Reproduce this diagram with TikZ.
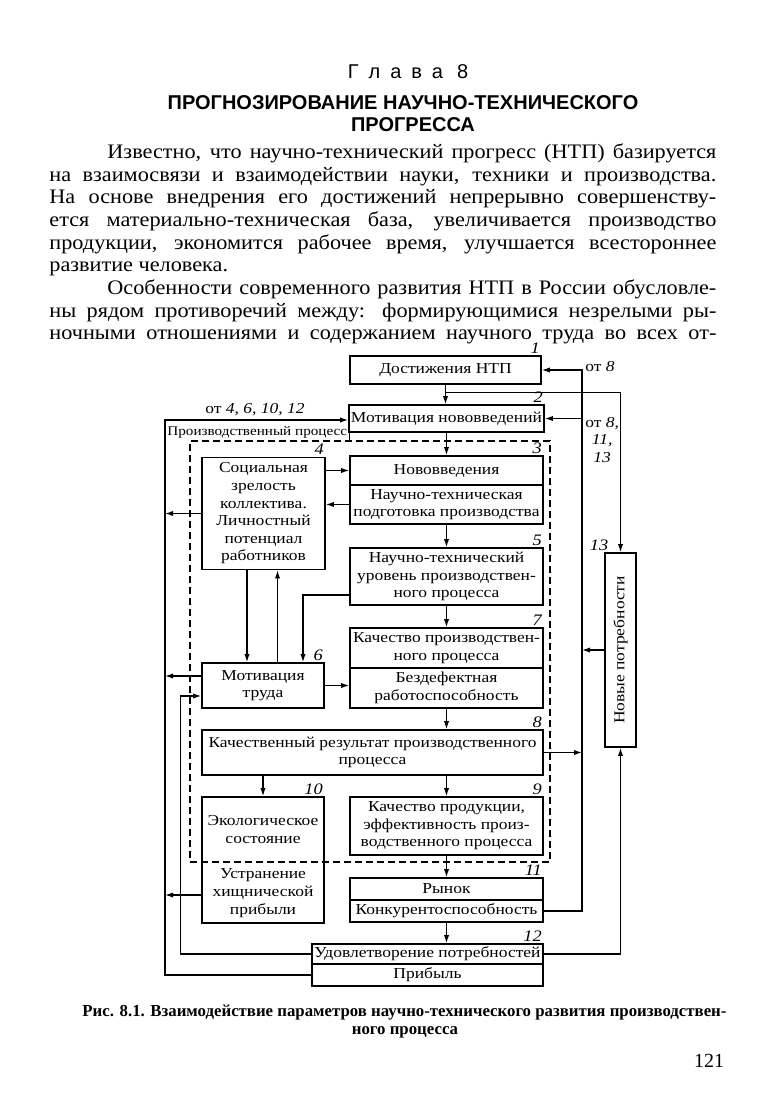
\documentclass[tikz,border=0pt]{standalone}
\usepackage{fontspec}
\setmainfont{Liberation Serif}
\newfontfamily\bodyfont[FakeStretch=1.08]{Liberation Serif}
\newfontfamily\diagfont[FakeStretch=1.15]{Liberation Serif}
\newfontfamily\headfont{Liberation Sans}
\usetikzlibrary{positioning,arrows.meta,calc}

\begin{document}
\begin{tikzpicture}[
x=0.5pt, y=-0.5pt,
wh/.style 2 args={minimum width=#1*0.5pt, minimum height=#2*0.5pt},
box/.style={
draw,
line width=0.8pt,
inner sep=1pt,
align=center,
font=\diagfont\fontsize{7.6}{8.8}\selectfont
},
note/.style={inner sep=1pt, align=center, font=\diagfont\fontsize{7.6}{8.8}\selectfont},
num/.style={anchor=south east, inner sep=0.8pt, font=\diagfont\itshape\fontsize{8}{8}\selectfont},
conn/.style={->, line width=0.6pt},
txt/.style={anchor=base west, inner sep=0pt, font=\bodyfont\fontsize{10.3}{11.35}\selectfont},
>={Latex[length=4pt,width=2.6pt]}
]

\path[fill=white, use as bounding box] (0,0) rectangle (764,1097);

% heading
\node[font=\headfont\fontsize{10}{11}\selectfont, anchor=base] (chap) at (408,79)
{Г\hspace{5pt}л\hspace{5pt}а\hspace{5pt}в\hspace{5pt}а\hspace{7pt}8};
\node[font=\headfont\bfseries\fontsize{10}{11}\selectfont, anchor=base] (title1) at (403,109.5)
{ПРОГНОЗИРОВАНИЕ НАУЧНО-ТЕХНИЧЕСКОГО};
\node[font=\headfont\bfseries\fontsize{10}{11}\selectfont, anchor=base] (title2) at (413,131.5)
{ПРОГРЕССА};

% body text
\node[txt] (t1) at (107,158) {\makebox[304.5pt][s]{Известно, что научно-технический прогресс (НТП) базируется}};
\node[txt] (t2) at (49,181) {\makebox[333.5pt][s]{на взаимосвязи и взаимодействии науки, техники и производства.}};
\node[txt] (t3) at (49,203.5) {\makebox[333.5pt][s]{На основе внедрения его достижений непрерывно совершенству-}};
\node[txt] (t4) at (49,226) {\makebox[333.5pt][s]{ется материально-техническая база, увеличивается производство}};
\node[txt] (t5) at (49,249) {\makebox[333.5pt][s]{продукции, экономится рабочее время, улучшается всестороннее}};
\node[txt] (t6) at (49,271.5) {развитие человека.};
\node[txt] (t7) at (107,294) {\makebox[304.5pt][s]{Особенности современного развития НТП в России обусловле-}};
\node[txt] (t8) at (49,317) {\makebox[333.5pt][s]{ны рядом противоречий между: формирующимися незрелыми ры-}};
\node[txt] (t9) at (49,339) {\makebox[333.5pt][s]{ночными отношениями и содержанием научного труда во всех от-}};

% process frame
\node[draw, dashed, dash pattern=on 3.5pt off 2pt, line width=0.6pt, wh={360}{421}] (proc) at (370,651.5) {};
\coordinate (ol) at (165,420);
\coordinate (rl) at (582,370);

% boxes
\node[box, wh={191}{28}] (b1) at (445.5,370) {Достижения НТП};
\node[box, wh={193}{27}] (b2) at (446.5,418.5) {Мотивация нововведений};
\node[box, wh={193}{29}] (b3a) at (446.5,470.5) {Нововведения};
\node[box, wh={193}{39}] (b3b) at (446.5,504.5) {Научно-техническая\\подготовка производства};
\node[box, wh={123}{112}] (b4) at (263.5,513.5) {Социальная\\зрелость\\коллектива.\\Личностный\\потенциал\\работников};
\node[box, wh={193}{57}] (b5) at (446.5,576.5) {Научно-технический\\уровень производствен-\\ного процесса};
\node[box, wh={122}{45}] (b6) at (263,685.5) {Мотивация\\труда};
\node[box, wh={193}{40}] (b7a) at (446.5,648) {Качество производствен-\\ного процесса};
\node[box, wh={193}{40}] (b7b) at (446.5,688) {Бездефектная\\работоспособность};
\node[box, wh={341}{45}] (b8) at (372.5,752.5) {Качественный результат производственного\\процесса};
\node[box, wh={193}{58}] (b9) at (446.5,826) {Качество продукции,\\эффективность произ-\\водственного процесса};
\node[box, wh={122}{126}] (b10) at (263,860) {};
\node[note] (b10txt) at (263,866.5) {Экологическое\\состояние\\[9pt]Устранение\\хищнической\\прибыли};
\node[box, wh={193}{22}] (b11a) at (446.5,889) {Рынок};
\node[box, wh={193}{22}] (b11b) at (446.5,911) {Конкурентоспособность};
\node[box, wh={231}{20}] (b12a) at (427.5,954) {Удовлетворение потребностей};
\node[box, wh={231}{22}] (b12b) at (427.5,975) {Прибыль};
\node[box, wh={31}{194}] (b13) at (620.5,650) {\rotatebox{90}{Новые потребности}};

% numbers
\node[num] at (b1.north east) {1};
\node[num] at (b2.north east) {2};
\node[num] at (b3a.north east) {3};
\node[num] at (b4.north east) {4};
\node[num] at (b5.north east) {5};
\node[num] at (b6.north east) {6};
\node[num] at (b7a.north east) {7};
\node[num] at (b8.north east) {8};
\node[num] at (b9.north east) {9};
\node[num] at (b10.north east) {10};
\node[num] at (b11a.north east) {11};
\node[num] at (b12a.north east) {12};
\node[num] at ([xshift=3pt]b13.north west) {13};

% labels
\node[anchor=south west, inner sep=1pt, font=\diagfont\fontsize{6.6}{8}\selectfont] (proclbl) at (proc.north west -| ol) {Производственный процесс};
\draw[line width=0.6pt] (proclbl.south east) -- (proclbl.east |- ol);
\node[note] (from2) at (255,410) {от \textit{4, 6, 10, 12}};
\node[note, anchor=south west] (from1) at ($(rl)+(1,4)$) {от \textit{8}};
\node[note, anchor=north west] (from3) at ($(b2.east -| rl)+(1,-4)$) {от \textit{8,}\\\textit{11,}\\\textit{13}};

% main chain
\draw[conn] (b1.south) -- (b1.south |- b2.north);
\draw[conn] (b2) -- (b3a);
\draw[conn] (b3b) -- (b5);
\draw[conn] (b5) -- (b7a);
\draw[conn] (b7b.south) -- (b7b.south |- b8.north);
\draw[conn] (b9.north |- b8.south) -- (b9.north);
\draw[conn] (b10.north |- b8.south) -- (b10.north);
\draw[conn] (b9) -- (b11a);
\draw[conn] (b11b.south) -- (b11b.south |- b12a.north);

% inner links
\draw[conn] (b4.east |- b3a) -- (b3a.west);
\draw[conn] (b3b.west) -- (b4.east |- b3b);
\draw[conn] ($(b4.south)+(-16.5,0)$) -- ($(b6.north)+(-16,0)$);
\draw[conn] ($(b6.north)+(14.5,0)$) -- ($(b4.south)+(14,0)$);
\draw[conn] ($(b5.west)+(0,18.5)$) -| ($(b6.north)+(40,0)$);
\draw[conn] (b6.east) -- (b6.east -| b7b.west);

% left feedback
\path (b6.west) ++(0,-9.5) coordinate (p6);
\path (b10.west) ++(0,35) coordinate (p10);
\draw[conn] (b12b.west) -| (ol) -- (ol -| b2.west);
\draw[conn] (b12a.west) -| ($(b6.west)+(-21,10.5)$) -- ($(b6.west)+(0,10.5)$);
\draw[conn] (b4.west) -- (b4.west -| ol);
\draw[conn] (p6) -- (p6 -| ol);
\draw[conn] (p10) -- (p10 -| ol);

% right feedback
\draw[conn] (b11b.east) -| (rl) -- (b1.east);
\draw[conn] (b2.east -| rl) -- (b2.east);
\draw[conn] (b8.east) -- (b8.east -| rl);
\draw[conn] (b13.west) -- (b13.west -| rl);
\draw[conn] ($(b1.south)+(0,8)$) -| (b13.north);
\draw[conn] (b12a.east) -| (b13.south);

% caption
\node[anchor=base, inner sep=0pt, font=\bfseries\fontsize{8.4}{9}\selectfont] (cap1) at (404.5,1016)
{Рис. 8.1. Взаимодействие параметров научно-технического развития производствен-};
\node[anchor=base, inner sep=0pt, font=\bfseries\fontsize{8.4}{9}\selectfont] (cap2) at (405,1034)
{ного процесса};
\node[anchor=base, inner sep=0pt, font=\fontsize{10}{11}\selectfont] (page) at (709,1067) {121};

\end{tikzpicture}
\end{document}
